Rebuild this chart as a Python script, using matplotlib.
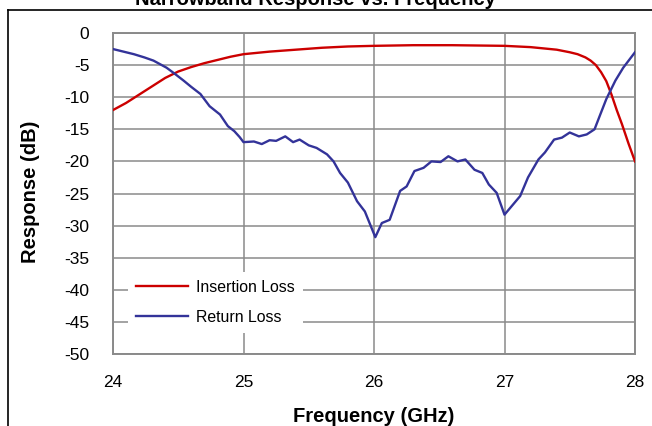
import matplotlib
matplotlib.use('Agg')
import matplotlib.pyplot as plt
from matplotlib.lines import Line2D

plt.rcParams['font.family'] = ['Liberation Sans', 'DejaVu Sans']
plt.rcParams['axes.unicode_minus'] = False

# Insertion loss (red)
il_freq = [24.00, 24.10, 24.20, 24.30, 24.40, 24.50, 24.60, 24.70, 24.80, 24.90,
           25.00, 25.20, 25.40, 25.60, 25.80, 26.00, 26.30, 26.60, 27.00, 27.20,
           27.40, 27.50, 27.56, 27.62, 27.66, 27.70, 27.74, 27.78, 27.82, 27.86,
           27.90, 27.95, 28.00]
il_db = [-12.0, -10.9, -9.6, -8.3, -7.0, -6.0, -5.3, -4.7, -4.2, -3.7,
         -3.3, -2.9, -2.6, -2.3, -2.1, -2.0, -1.9, -1.9, -2.0, -2.2,
         -2.6, -3.0, -3.3, -3.8, -4.3, -5.0, -6.1, -7.5, -9.6, -12.0,
         -14.2, -17.2, -20.0]

# Return loss (blue)
rl_freq = [24.00, 24.08, 24.16, 24.24, 24.31, 24.41, 24.47, 24.54, 24.60, 24.67,
           24.74, 24.82, 24.88, 24.93, 24.97, 25.00, 25.08, 25.14, 25.20, 25.25,
           25.32, 25.38, 25.43, 25.50, 25.56, 25.64, 25.69, 25.74, 25.80, 25.87,
           25.93, 26.01, 26.06, 26.12, 26.20, 26.25, 26.31, 26.38, 26.44, 26.51,
           26.57, 26.64, 26.70, 26.77, 26.83, 26.88, 26.94, 27.00, 27.12, 27.18,
           27.26, 27.31, 27.38, 27.44, 27.50, 27.57, 27.63, 27.69, 27.73, 27.78,
           27.85, 27.91, 28.00]
rl_db = [-2.5, -2.9, -3.3, -3.8, -4.3, -5.4, -6.3, -7.4, -8.4, -9.5,
         -11.4, -12.7, -14.5, -15.3, -16.2, -17.0, -16.9, -17.3, -16.7, -16.8,
         -16.1, -17.0, -16.6, -17.5, -17.9, -18.9, -20.0, -21.8, -23.3, -26.2,
         -27.8, -31.8, -29.6, -29.1, -24.6, -23.9, -21.5, -21.0, -20.0, -20.1,
         -19.2, -20.0, -19.7, -21.3, -21.8, -23.6, -24.9, -28.3, -25.4, -22.5,
         -19.7, -18.6, -16.6, -16.3, -15.5, -16.1, -15.8, -15.0, -12.9, -10.3,
         -7.4, -5.4, -3.0]

x_ticks = [24, 25, 26, 27, 28]
y_ticks = list(range(0, -55, -5))

fig = plt.figure(figsize=(6.52, 4.26), dpi=100)
ax = fig.add_axes([113/652, 72/426, 522/652, 321/426])

grid_col = '#8a8a8a'
ax.plot(il_freq, il_db, color='#cc0000', lw=1.7, label='Insertion Loss', zorder=3)
ax.plot(rl_freq, rl_db, color='#333399', lw=1.7, label='Return Loss', zorder=3)

ax.set_xlim(24, 28)
ax.set_ylim(-50, 0)
ax.set_xticks(x_ticks)
ax.set_yticks(y_ticks)
ax.grid(True, color=grid_col, lw=1.1)
ax.set_axisbelow(True)
for s in ax.spines.values():
    s.set_color(grid_col)
    s.set_linewidth(1.4)
ax.tick_params(length=0, labelsize=12.5, colors='black')
ax.tick_params(axis='y', pad=17)
ax.tick_params(axis='x', pad=15)

leg = ax.legend(loc='upper left', bbox_to_anchor=(0.029, 0.256), fontsize=11.4,
                frameon=True, facecolor='white', edgecolor='none', framealpha=1,
                fancybox=False, handlelength=3.3, handletextpad=0.5,
                labelspacing=0.95, borderpad=0.5, borderaxespad=0)
leg.set_zorder(4)

fig.text(374/652, 4/426, 'Frequency (GHz)', ha='center', va='baseline',
         fontsize=14.5, fontweight='bold')
fig.text(30/652, 1 - 192/426, 'Response (dB)', ha='center', va='center',
         rotation=90, fontsize=14.5, fontweight='bold')
fig.text(315/652, 1 - 5/426, 'Narrowband Response vs. Frequency', ha='center',
         va='baseline', fontsize=14.5, fontweight='bold')

# outer chart frame (runs off the right and bottom edges)
fig.add_artist(Line2D([7.5/652, 7.5/652], [0, 1 - 9.5/426], color='black', lw=1.2))
fig.add_artist(Line2D([7.5/652, 1], [1 - 9.5/426, 1 - 9.5/426], color='black', lw=1.2))

fig.savefig('out.png', dpi=100)
